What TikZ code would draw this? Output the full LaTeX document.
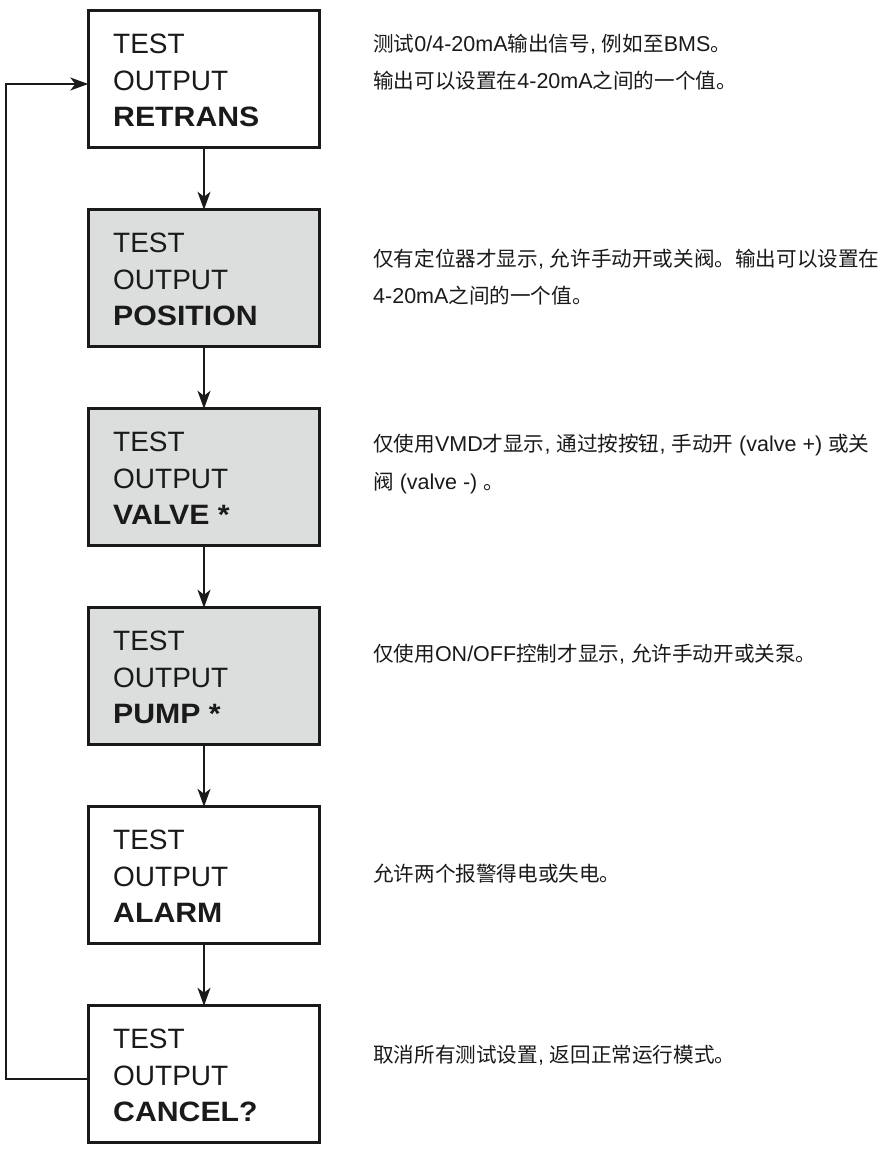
\documentclass[tikz,border=0pt]{standalone}
\usepackage{fontspec}
\setmainfont{Liberation Sans}
\newfontfamily\cjk{Noto Sans CJK SC}
\usetikzlibrary{arrows.meta}
\newcommand{\zh}[1]{{\cjk\fontsize{20.6}{26}\selectfont #1}}
\newcommand{\boxbf}[1]{{\bfseries\addfontfeature{FakeStretch=1.08}#1}}
\definecolor{boxgray}{RGB}{220,221,221}
\definecolor{ink}{RGB}{26,26,26}
\begin{document}
\begin{tikzpicture}[x=1pt,y=-1pt,
  stepbox/.style={draw=ink, line width=2.6pt, minimum width=231.5pt, minimum height=136.5pt, inner sep=0pt, outer sep=0pt},
  graybox/.style={stepbox, fill=boxgray},
  whitebox/.style={stepbox, fill=white},
  boxtext/.style={anchor=base west, inner sep=0pt, text=ink, font=\fontsize{28}{34}\selectfont},
  desc/.style={anchor=base west, inner sep=0pt, text=ink, font=\fontsize{21.5}{26}\selectfont},
  flow/.style={draw=ink, line width=1.4pt, -{Stealth[length=18pt,width=13pt,inset=5pt]}},
]
\useasboundingbox (0,0) rectangle (887,1149);

% boxes
\foreach \i/\sty/\word [evaluate=\i as \top using 9.5+199*(\i-1)] in
  {1/whitebox/RETRANS, 2/graybox/POSITION, 3/graybox/VALVE *, 4/graybox/PUMP *, 5/whitebox/ALARM, 6/whitebox/CANCEL?}{
  \node[\sty] (b\i) at (204,\top+69.5) {};
  \node[boxtext] (t\i a) at (113,\top+44) {TEST};
  \node[boxtext] (t\i b) at (113,\top+80.5) {OUTPUT};
  \node[boxtext] (t\i c) at (113,\top+117) {\boxbf{\word}};
}

% connectors
\foreach \i/\j in {1/2,2/3,3/4,4/5,5/6}{
  \draw[flow] (b\i.south) -- (b\j.north);
}
\coordinate (c1) at (6,1079);
\coordinate (c2) at (6,84);
\draw[flow] ([yshift=-5pt]b6.west) -- (c1) -- (c2) -- ([yshift=-5pt]b1.west);

% descriptions
\node[desc] (d1a) at (373,51) {\zh{测试}0/4-20mA\zh{输出信号}, \zh{例如至}BMS\zh{。}};
\node[desc] (d1b) at (373,88) {\zh{输出可以设置在}4-20mA\zh{之间的一个值。}};
\node[desc] (d2a) at (373,266) {\zh{仅有定位器才显示}, \zh{允许手动开或关阀。输出可以设置在}};
\node[desc] (d2b) at (373,303) {4-20mA\zh{之间的一个值。}};
\node[desc] (d3a) at (373,451) {\zh{仅使用}VMD\zh{才显示}, \zh{通过按按钮}, \zh{手动开} (valve +) \zh{或关}};
\node[desc] (d3b) at (373,489) {\zh{阀} (valve -) \zh{。}};
\node[desc] (d4a) at (373,661) {\zh{仅使用}ON/OFF\zh{控制才显示}, \zh{允许手动开或关泵。}};
\node[desc] (d5a) at (373,881) {\zh{允许两个报警得电或失电。}};
\node[desc] (d6a) at (373,1062) {\zh{取消所有测试设置}, \zh{返回正常运行模式。}};
\end{tikzpicture}
\end{document}
